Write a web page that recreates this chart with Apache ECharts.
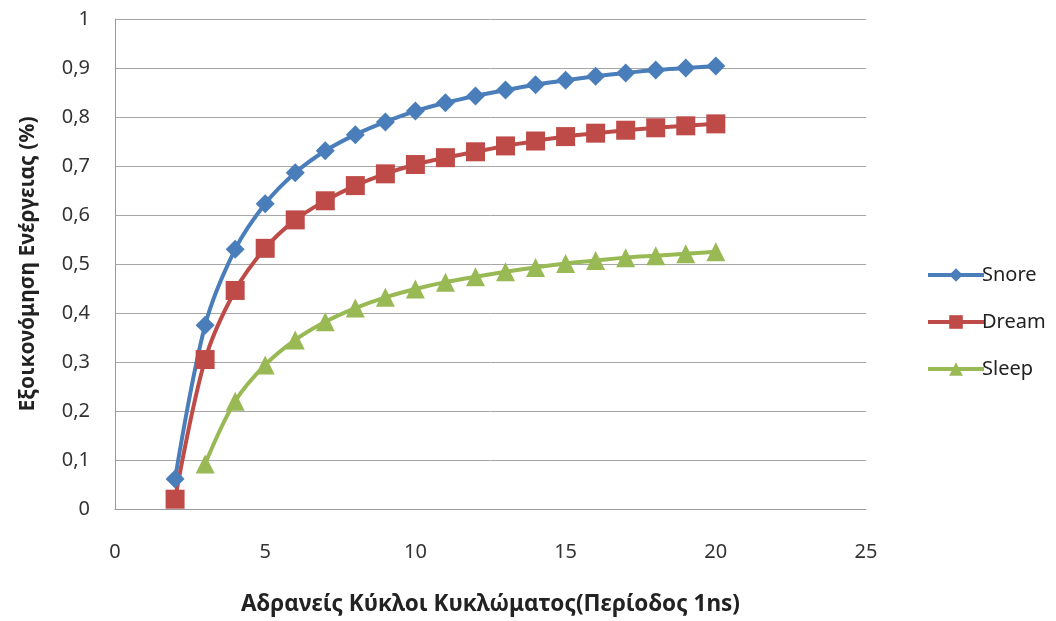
<!DOCTYPE html>
<html>
<head>
<meta charset="utf-8">
<script src="https://cdn.jsdelivr.net/npm/echarts@6/dist/echarts.min.js"></script>
<style>
  html, body { margin: 0; padding: 0; background: #fff; }
  #chart { width: 1056px; height: 621px; }
</style>
</head>
<body>
<div id="chart"></div>
<script>
// Idle cycles of the circuit (x) and energy saving per low-power mode
const cycles = [2, 3, 4, 5, 6, 7, 8, 9, 10, 11, 12, 13, 14, 15, 16, 17, 18, 19, 20];
const snore = [0.061, 0.375, 0.530, 0.623, 0.686, 0.731, 0.764, 0.790, 0.812, 0.829, 0.843, 0.855, 0.866, 0.875, 0.883, 0.890, 0.896, 0.900, 0.904];
const dream = [0.020, 0.305, 0.446, 0.532, 0.590, 0.629, 0.660, 0.684, 0.703, 0.717, 0.729, 0.741, 0.751, 0.760, 0.767, 0.773, 0.778, 0.782, 0.786];
const sleepCycles = [3, 4, 5, 6, 7, 8, 9, 10, 11, 12, 13, 14, 15, 16, 17, 18, 19, 20];
const sleep = [0.092, 0.220, 0.294, 0.345, 0.382, 0.410, 0.432, 0.449, 0.463, 0.474, 0.484, 0.493, 0.501, 0.507, 0.513, 0.517, 0.521, 0.525];

const xTitle = 'Αδρανείς Κύκλοι Κυκλώματος(Περίοδος 1ns)';
const yTitle = 'Εξοικονόμηση Ενέργειας (%)';

const FONT = '"Noto Sans", "Open Sans", sans-serif';
const zip = (xs, ys) => xs.map((x, i) => [x, ys[i]]);

const chart = echarts.init(document.getElementById('chart'));

function lineSeries(name, data, color, symbol, size) {
  return {
    name, type: 'line', data, smooth: 0.35,
    symbol, symbolSize: size,
    lineStyle: { color, width: 4 },
    itemStyle: { color },
    emphasis: { disabled: true },
    animation: false
  };
}

chart.setOption({
  animation: false,
  textStyle: { fontFamily: FONT },
  grid: { left: 115, top: 19, width: 751, height: 491, containLabel: false },
  legend: {
    orient: 'vertical',
    left: 921, top: 260,
    itemGap: 27,
    itemWidth: 56, itemHeight: 17,
    lineStyle: { width: 4 },
    textStyle: { fontSize: 20, color: '#222', fontFamily: FONT, padding: [0, 0, 0, -7] },
    data: ['Snore', 'Dream', 'Sleep']
  },
  xAxis: {
    type: 'value', min: 0, max: 25, interval: 5,
    axisLine: { show: true, lineStyle: { color: '#9a9a9a', width: 1 } },
    axisTick: { show: false },
    splitLine: { show: false },
    axisLabel: { fontSize: 20, color: '#333', margin: 33, fontFamily: FONT },
    name: xTitle, nameLocation: 'middle', nameGap: 84,
    nameTextStyle: { fontSize: 22.5, fontWeight: 'bold', color: '#222', fontFamily: FONT }
  },
  yAxis: {
    type: 'value', min: 0, max: 1, interval: 0.1,
    axisLine: { show: true, lineStyle: { color: '#9a9a9a', width: 1 } },
    axisTick: { show: false },
    splitLine: { show: true, lineStyle: { color: '#a6a6a6', width: 1 } },
    axisLabel: {
      fontSize: 20, color: '#333', margin: 25, fontFamily: FONT,
      formatter: v => String(Math.round(v * 10) / 10).replace('.', ',')
    },
    name: yTitle, nameLocation: 'middle', nameGap: 76,
    nameTextStyle: { fontSize: 21, fontWeight: 'bold', color: '#222', fontFamily: FONT }
  },
  series: [
    lineSeries('Snore', zip(cycles, snore), '#4a7ebb', 'diamond', 19),
    lineSeries('Dream', zip(cycles, dream), '#be4b48', 'rect', 19),
    lineSeries('Sleep', zip(sleepCycles, sleep), '#98b954', 'triangle', 19)
  ]
});
</script>
</body>
</html>
